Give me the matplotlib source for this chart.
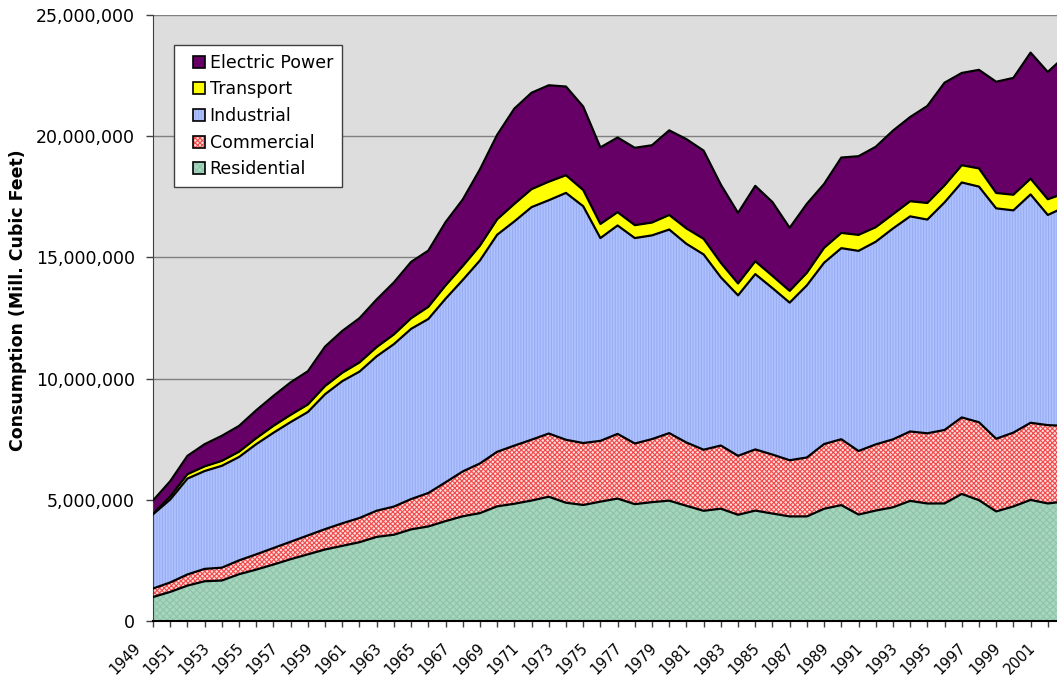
import numpy as np
import matplotlib
matplotlib.use("Agg")
import matplotlib.pyplot as plt
import matplotlib.transforms as mtransforms
from matplotlib.patches import Rectangle
from matplotlib.legend_handler import HandlerBase
from matplotlib.ticker import FuncFormatter

# Natural gas consumption by sector, billion cubic feet (x1000 = Mill. Cubic Feet)
years = np.arange(1949, 2003)

residential = [990, 1200, 1460, 1640, 1670, 1930, 2120, 2330, 2550, 2750,
               2950, 3100, 3250, 3470, 3560, 3780, 3900, 4120, 4320, 4450,
               4730, 4837, 4970, 5126, 4879, 4786, 4924, 5051, 4821, 4903,
               4965, 4752, 4546, 4633, 4381, 4555, 4433, 4314, 4315, 4630,
               4781, 4391, 4556, 4690, 4956, 4848, 4850, 5241, 4984, 4520,
               4726, 4996, 4850, 4930]

commercial = [350, 390, 460, 510, 530, 570, 630, 680, 720, 780,
              840, 930, 1000, 1080, 1160, 1250, 1380, 1600, 1850, 2050,
              2250, 2399, 2509, 2608, 2597, 2556, 2508, 2668, 2501, 2601,
              2786, 2611, 2520, 2606, 2433, 2524, 2432, 2318, 2430, 2670,
              2718, 2623, 2729, 2803, 2863, 2895, 3031, 3158, 3215, 2999,
              3045, 3182, 3230, 3120]

industrial = [3061, 3422, 3954, 4036, 4202, 4266, 4546, 4756, 4938, 5092,
              5566, 5865, 6039, 6371, 6702, 7023, 7178, 7574, 7897, 8374,
              8955, 9249, 9595, 9624, 10185, 9769, 8365, 8598, 8475, 8405,
              8398, 8197, 8056, 6940, 6620, 7232, 6868, 6502, 7103, 7480,
              7882, 8255, 8360, 8699, 8874, 8817, 9389, 9692, 9722, 9504,
              9169, 9420, 8670, 9030]

transport = [20, 126, 181, 193, 204, 217, 245, 285, 297, 309,
             337, 347, 378, 380, 400, 437, 501, 548, 575, 610,
             635, 722, 743, 766, 728, 669, 583, 548, 533, 530,
             601, 635, 642, 596, 490, 529, 504, 485, 519, 614,
             629, 660, 601, 588, 624, 685, 700, 711, 751, 635,
             645, 650, 650, 570]

electric = [550, 629, 757, 915, 1034, 1065, 1153, 1237, 1341, 1372,
            1628, 1725, 1825, 1966, 2148, 2324, 2321, 2610, 2746, 3148,
            3486, 3932, 3976, 3977, 3660, 3443, 3158, 3081, 3191, 3188,
            3491, 3682, 3640, 3226, 2911, 3111, 3044, 2602, 2844, 2636,
            3109, 3245, 3316, 3448, 3473, 4002, 4237, 3807, 4065, 4588,
            4820, 5200, 5250, 5650]

sectors = ["Residential", "Commercial", "Industrial", "Transport", "Electric Power"]
series = [residential, commercial, industrial, transport, electric]
# face colour, hatch, hatch colour
styles = [("#A6D6BD", "xxxxx", "#8FC4AA"),
          ("#FFDCDC", "xxxxxxx", "#F24A4A"),
          ("#AEC2FF", "||||||", "#98ACF2"),
          ("#FFFF00", None, "#FFFF00"),
          ("#660066", None, "#660066")]

plt.rcParams["hatch.linewidth"] = 0.8


class SquareHandler(HandlerBase):
    # small square legend key, hatched, with a black outline
    def create_artists(self, legend, orig_handle, xdescent, ydescent,
                       width, height, fontsize, trans):
        s = 8.6
        x0 = width - s - xdescent
        y0 = (height - s) / 2 - ydescent
        fill = Rectangle((x0, y0), s, s, facecolor=orig_handle.get_facecolor(),
                         edgecolor=orig_handle.get_edgecolor(),
                         hatch=orig_handle.get_hatch(), lw=0, transform=trans)
        box = Rectangle((x0, y0), s, s, facecolor="none", edgecolor="black",
                        lw=1.2, transform=trans)
        return [fill, box]


fig = plt.figure(figsize=(10.57, 6.79), dpi=100)
ax = fig.add_axes([153 / 1057, 58 / 679, 912 / 1057, 606 / 679])
ax.set_facecolor("#DDDDDD")

vals = np.array(series, dtype=float) * 1000
tops = np.cumsum(vals, axis=0)
bottom = np.zeros(len(years))
handles = []
for name, top, (face, hatch, hcol) in zip(sectors, tops, styles):
    ax.fill_between(years, bottom, top, facecolor=face, edgecolor=hcol,
                    hatch=hatch, linewidth=0, zorder=2)
    ax.plot(years, top, color="black", lw=1.6, zorder=3)
    handles.append(Rectangle((0, 0), 1, 1, facecolor=face, edgecolor=hcol, hatch=hatch))
    bottom = top

ax.set_xlim(1949, 2002)
ax.set_ylim(0, 25000000)
ax.set_yticks(np.arange(0, 25000001, 5000000))
ax.yaxis.set_major_formatter(FuncFormatter(lambda v, p: f"{v:,.0f}"))
ax.yaxis.grid(True, color="#808080", lw=1)
ax.set_axisbelow(True)

ax.set_xticks(years[::2])
ax.set_xticks(years[1::2], minor=True)
ax.set_xticklabels([str(y) for y in years[::2]], fontsize=10.5,
                   rotation=45, ha="right", va="center", rotation_mode="anchor")
ax.tick_params(axis="x", which="both", length=4, width=1, direction="out",
               color="#404040", pad=13.5)
ax.tick_params(axis="y", length=5, width=1, color="#404040", pad=8,
               labelsize=12.5)
shift = mtransforms.ScaledTranslation(-0.15, 0, fig.dpi_scale_trans)
for lbl in ax.get_xticklabels():
    lbl.set_transform(lbl.get_transform() + shift)

for side in ("top", "right"):
    ax.spines[side].set_visible(False)
ax.spines["left"].set_color("#404040")
ax.spines["bottom"].set_color("black")
ax.spines["bottom"].set_linewidth(1.5)

ax.set_ylabel("Consumption (Mill. Cubic Feet)", fontsize=12.5, fontweight="bold")
ax.yaxis.set_label_coords(-0.138, 0.53)

leg = ax.legend(handles[::-1], sectors[::-1], loc="upper left",
                bbox_to_anchor=(0.023, 0.9505), borderaxespad=0,
                fontsize=12.5, fancybox=False, framealpha=1, edgecolor="#404040",
                borderpad=0.5, labelspacing=0.5, handlelength=1.26,
                handletextpad=0.3, handler_map={Rectangle: SquareHandler()})
leg.get_frame().set_linewidth(1.0)

fig.savefig("out.png", dpi=100)
